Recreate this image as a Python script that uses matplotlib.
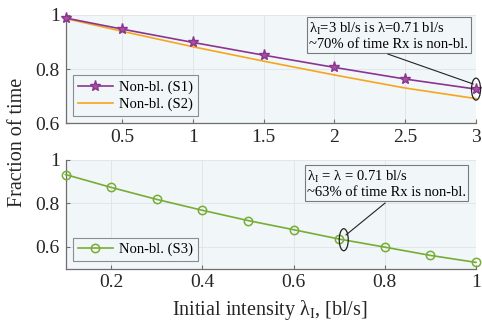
import matplotlib
matplotlib.use("Agg")
import matplotlib.pyplot as plt
from matplotlib.patches import Ellipse

plt.rcParams['font.family'] = ['Liberation Serif', 'DejaVu Serif']
plt.rcParams['mathtext.fontset'] = 'custom'
plt.rcParams['mathtext.rm'] = 'Liberation Serif'
plt.rcParams['mathtext.it'] = 'Liberation Serif:italic'

# Scenario 1/2: intensity sweep from 0.1 to 3 bl/s
lam_top = [0.1, 0.5, 1.0, 1.5, 2.0, 2.5, 3.0]
s1_nonbl = [0.988, 0.947, 0.898, 0.851, 0.806, 0.763, 0.726]
s2_nonbl = [0.986, 0.939, 0.882, 0.829, 0.778, 0.730, 0.691]

# Scenario 3: intensity sweep from 0.1 to 1 bl/s
lam_bot = [0.1, 0.2, 0.3, 0.4, 0.5, 0.6, 0.7, 0.8, 0.9, 1.0]
s3_nonbl = [0.932, 0.873, 0.818, 0.768, 0.721, 0.679, 0.636, 0.599, 0.561, 0.529]

top_xticks = [0.5, 1, 1.5, 2, 2.5, 3]
top_xticklabels = ['0.5', '1', '1.5', '2', '2.5', '3']
top_yticks = [0.6, 0.8, 1.0]
top_yticklabels = ['0.6', '0.8', '1']
bot_xticks = [0.2, 0.4, 0.6, 0.8, 1.0]
bot_xticklabels = ['0.2', '0.4', '0.6', '0.8', '1']
bot_yticks = [0.6, 0.8, 1.0]
bot_yticklabels = ['0.6', '0.8', '1']

c_s1 = '#8A3590'
c_s2 = '#F7A51C'
c_s3 = '#77AD35'
bg = '#F1F6F9'
spine_c = '#6E6E6E'
grid_c = '#E2E6EA'

fig = plt.figure(figsize=(4.82, 3.22), dpi=100)
ax1 = fig.add_axes([0.1359, 0.617, 0.8517, 0.3373])
ax2 = fig.add_axes([0.1359, 0.1655, 0.8517, 0.3385])


def style(ax, xlim, ylim, xt, xtl, yt, ytl):
    ax.set_facecolor(bg)
    ax.set_xlim(*xlim)
    ax.set_ylim(*ylim)
    ax.set_xticks(xt)
    ax.set_xticklabels(xtl)
    ax.set_yticks(yt)
    ax.set_yticklabels(ytl)
    ax.grid(True, color=grid_c, lw=0.7)
    ax.set_axisbelow(True)
    for s in ('top', 'right'):
        ax.spines[s].set_visible(False)
    for s in ('left', 'bottom'):
        ax.spines[s].set_color(spine_c)
        ax.spines[s].set_linewidth(0.9)
    ax.tick_params(direction='in', length=3, width=0.8, color=spine_c,
                   labelsize=14, labelcolor='#262626', pad=4)


style(ax1, (0.1, 3.0), (0.6, 1.0), top_xticks, top_xticklabels,
      top_yticks, top_yticklabels)
style(ax2, (0.1, 1.0), (0.5, 1.0), bot_xticks, bot_xticklabels,
      bot_yticks, bot_yticklabels)

ax1.plot(lam_top, s1_nonbl, color=c_s1, lw=1.2, marker='*', ms=8,
         mfc='#A8509F', mec=c_s1, label='Non-bl. (S1)', clip_on=False, zorder=4)
ax1.plot(lam_top, s2_nonbl, color=c_s2, lw=1.2, label='Non-bl. (S2)',
         clip_on=False, zorder=3)

ax2.plot(lam_bot, s3_nonbl, color=c_s3, lw=1.2, marker='o', ms=6,
         mfc='none', mec=c_s3, mew=1.1, label='Non-bl. (S3)',
         clip_on=False, zorder=3)

leg_kw = dict(loc='lower left', fontsize=10.5, fancybox=False,
              edgecolor='#8C8C8C', facecolor=bg, framealpha=1,
              handlelength=2.4, borderpad=0.35, labelspacing=0.25,
              handletextpad=0.4, borderaxespad=0.5)
l1 = ax1.legend(**leg_kw)
l1.get_frame().set_linewidth(0.8)
l2 = ax2.legend(**leg_kw)
l2.get_frame().set_linewidth(0.8)

box_kw = dict(boxstyle='square,pad=0.15', fc=bg, ec='#7A7A7A', lw=0.8)

# Callout on scenario 1/2
ax1.text(0.594, 0.945,
         'λ$_{\\rm I}$=3 bl/s is λ=0.71 bl/s\n~70% of time Rx is non-bl.',
         transform=ax1.transAxes, ha='left', va='top', fontsize=10.5,
         linespacing=1.15, bbox=box_kw, zorder=6)
ax1.plot([2.378, 2.979], [0.855, 0.745], color='#222222', lw=0.8,
         clip_on=False, zorder=6)
ax1.add_patch(Ellipse((3.0, 0.726), 0.064, 0.081, fill=False,
                      ec='#222222', lw=0.9, clip_on=False, zorder=6))

# Callout on scenario 3
ax2.text(0.588, 0.918,
         'λ$_{\\rm I}$ = λ = 0.71 bl/s\n~63% of time Rx is non-bl.',
         transform=ax2.transAxes, ha='left', va='top', fontsize=10.5,
         linespacing=1.15, bbox=box_kw, zorder=6)
ax2.plot([0.8005, 0.715], [0.801, 0.655], color='#222222', lw=0.8,
         clip_on=False, zorder=6)
ax2.add_patch(Ellipse((0.71, 0.633), 0.0197, 0.101, fill=False,
                      ec='#222222', lw=0.9, clip_on=False, zorder=6))

fig.text(18 / 482, 1 - 142 / 322, 'Fraction of time', rotation=90,
         ha='center', va='center', fontsize=14.5, color='#262626')
fig.text(270 / 482, 1 - 315 / 322, 'Initial intensity λ$_{\\rm I}$, [bl/s]',
         ha='center', va='baseline', fontsize=14.5, color='#262626')

fig.savefig('out.png', dpi=100, facecolor='white')
